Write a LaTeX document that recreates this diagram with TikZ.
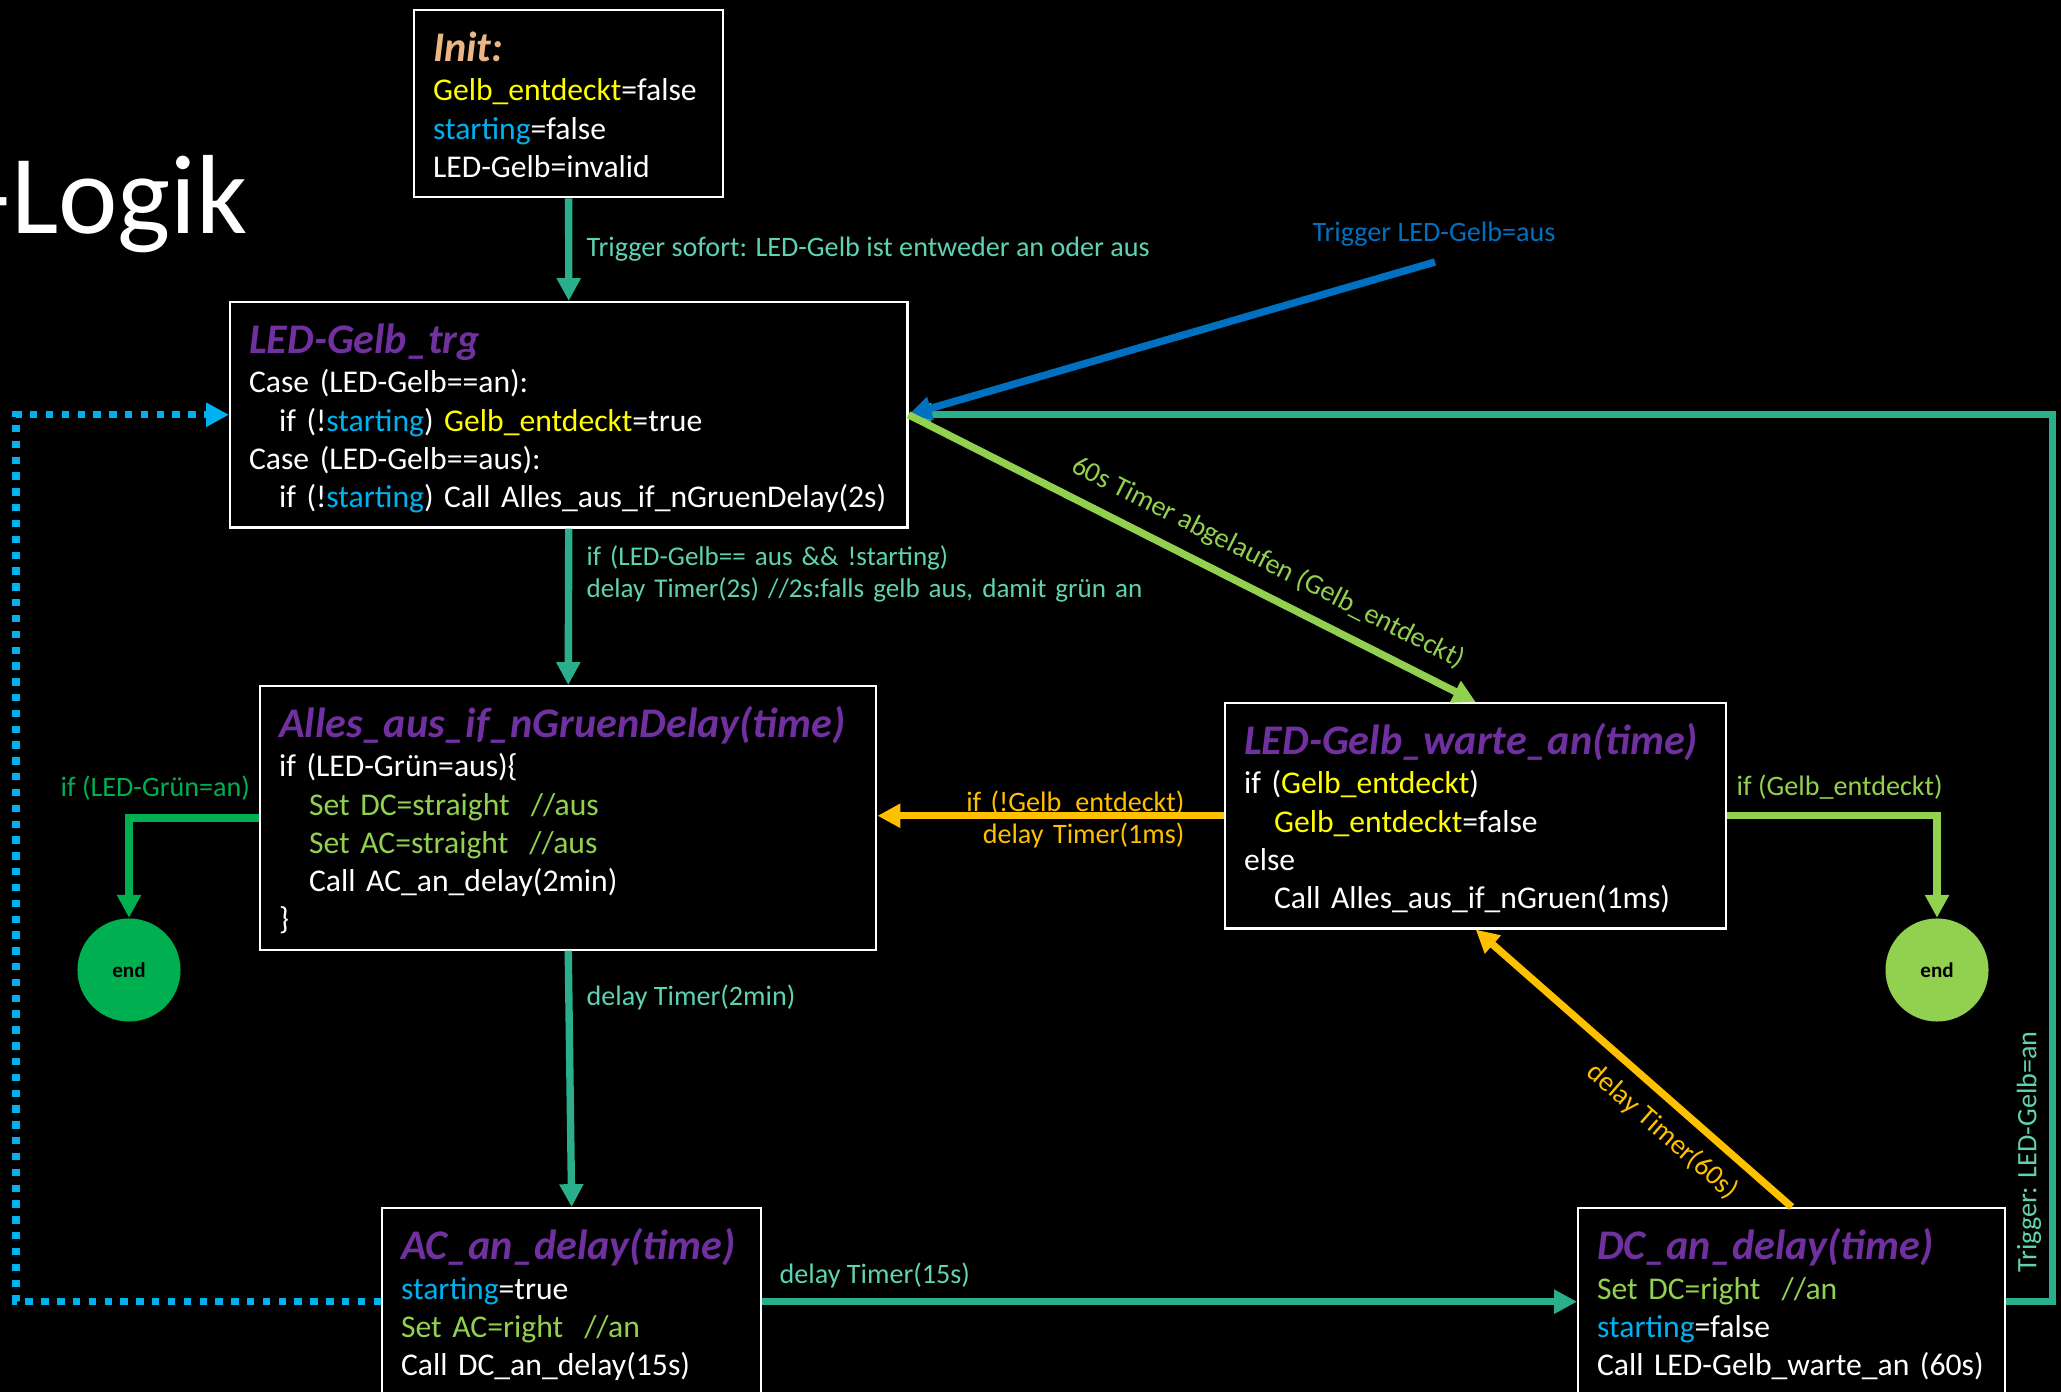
\documentclass[tikz,border=0pt]{standalone}
\usepackage{fontspec}
\setmainfont{Carlito}
\usetikzlibrary{arrows.meta}
\definecolor{flow}{HTML}{2BAE8C}
\definecolor{flowtext}{HTML}{5FD3B1}
\definecolor{trigblue}{HTML}{0070C0}
\definecolor{startblue}{HTML}{00B0F0}
\definecolor{leafgreen}{HTML}{92D050}
\definecolor{grassgreen}{HTML}{00B050}
\definecolor{amber}{HTML}{FFC000}
\definecolor{gelb}{HTML}{FFFF00}
\definecolor{fnpurple}{HTML}{7030A0}
\definecolor{inittan}{HTML}{EDB584}

\newcommand{\fnname}[2][fnpurple]{\rule{0pt}{5.1mm}{\fontsize{12}{14}\selectfont\bfseries\itshape\color{#1}#2}}
\newcommand{\ind}{\hspace*{3mm}}
\newcommand{\lst}{\rule[-2mm]{0pt}{2mm}}
\newcommand{\st}{\textcolor{startblue}{starting}}
\newcommand{\gelb}{\textcolor{gelb}{Gelb\_entdeckt}}

\begin{document}
\begin{tikzpicture}[
  x=0.01cm, y=-0.01cm,
  fnbox/.style={draw=white, line width=0.6pt, text=white, anchor=north west,
    align=left, inner xsep=0.19cm, inner ysep=0pt,
    font=\fontsize{9}{10.85}\selectfont},
  lbl/.style={inner sep=0pt, font=\fontsize{8}{9.1}\selectfont},
  conn/.style={line width=2.1pt, -{Triangle[length=6.5pt,width=6.5pt]}},
  dotline/.style={conn, startblue, dash pattern=on 2.1pt off 2.4pt},
  endc/.style={circle, minimum size=1.03cm, inner sep=0pt, text=black,
    font=\fontsize{6}{7}\selectfont\bfseries},
]
\useasboundingbox (0,0) rectangle (2061,1392);
\fill[black] (0,0) rectangle (2061,1392);

% ── heading, cut off by the left edge ─────────────────────────────────────
\node[anchor=base west, inner sep=0pt, text=white,
  font=\fontsize{32}{38}\selectfont] (heading) at (-24,234) {-Logik};

% ── the functions ─────────────────────────────────────────────────────────
\node[fnbox, text width=2.71cm] (init) at (413,9) {\fnname[inittan]{Init:}\\[0.5pt]
  \gelb=false\\
  \st=false\\
  LED-Gelb=invalid\lst};

\node[fnbox, text width=6.39cm] (trg) at (229,301) {\fnname{LED-Gelb\_trg}\\[0.5pt]
  Case (LED-Gelb==an):\\
  \ind if (!\st) \gelb=true\\
  Case (LED-Gelb==aus):\\
  \ind if (!\st) Call Alles\_aus\_if\_nGruenDelay(2s)\lst};

\node[fnbox, text width=5.78cm] (alles) at (259,685) {\fnname{Alles\_aus\_if\_nGruenDelay(time)}\\[0.5pt]
  if (LED-Grün=aus)\{\\
  \ind\textcolor{leafgreen}{Set DC=straight\ \ //aus}\\
  \ind\textcolor{leafgreen}{Set AC=straight\ \ //aus}\\
  \ind Call AC\_an\_delay(2min)\\
  \}\lst};

\node[fnbox, text width=4.63cm] (warte) at (1224,702) {\fnname{LED-Gelb\_warte\_an(time)}\\[0.5pt]
  if (\gelb)\\
  \ind\gelb=false\\
  else\\
  \ind Call Alles\_aus\_if\_nGruen(1ms)\lst};

\node[fnbox, text width=3.41cm] (ac) at (381,1207) {\fnname{AC\_an\_delay(time)}\\[0.5pt]
  \st=true\\
  \textcolor{leafgreen}{Set AC=right\ \ //an}\\
  Call DC\_an\_delay(15s)\lst};

\node[fnbox, text width=3.89cm] (dc) at (1577,1207) {\fnname{DC\_an\_delay(time)}\\[0.5pt]
  \textcolor{leafgreen}{Set DC=right\ \ //an}\\
  \st=false\\
  Call LED-Gelb\_warte\_an (60s)\lst};

\node[endc, fill=grassgreen] (endl) at (129,970) {end};
\node[endc, fill=leafgreen] (endr) at (1937,970) {end};

% ── the main chain ────────────────────────────────────────────────────────
\draw[conn, flow] (init.south) -- (trg.north);
\draw[conn, flow] (trg.south) -- (alles.north);
\draw[conn, flow] (alles.south) -- (ac.north);
\draw[conn, flow] (ac.east) -- (dc.west);
\draw[conn, flow] (dc.east) -- ++(46,0) |- (trg.east);
\draw[dotline] (ac.west) -- ++(-365,0) |- (trg.west);

\node[lbl, text=flowtext, anchor=base west] (l_init) at (586,257)
  {Trigger sofort: LED-Gelb ist entweder an oder aus};
\node[lbl, text=flowtext, anchor=base west, text width=6cm, align=left,
  font=\fontsize{7.7}{9.1}\selectfont] (l_trg) at (586,566)
  {if (LED-Gelb== aus \&\& !starting)\\delay Timer(2s) //2s:falls gelb aus, damit grün an};
\node[lbl, text=flowtext, anchor=base west] (l_alles) at (586,1005) {delay Timer(2min)};
\node[lbl, text=flowtext, anchor=base west] (l_ac) at (779,1283) {delay Timer(15s)};
\node[lbl, text=flowtext, rotate=90] (l_an) at (2029,1152) {Trigger: LED-Gelb=an};

% ── trigger from outside ──────────────────────────────────────────────────
\node[lbl, text=trigblue, anchor=base] (l_aus) at (1434,242) {Trigger LED-Gelb=aus};
\coordinate (ausfoot) at (1435,262);
\draw[conn, trigblue] (ausfoot) -- (trg.east);

% ── waiting for yellow ────────────────────────────────────────────────────
\draw[conn, leafgreen] (trg.east) -- (warte.north)
  node[lbl, sloped, above=4pt, pos=0.61, text=leafgreen] {60s Timer abgelaufen (Gelb\_entdeckt)};
\draw[conn, amber] (dc.north) -- (warte.south)
  node[lbl, sloped, below=3.5pt, pos=0.35, text=amber] {delay Timer(60s)};
\draw[conn, amber] (warte.west) -- (warte.west -| alles.east);
\node[lbl, text=amber, anchor=base east, text width=2.4cm, align=right] (l_ms) at (1185,811)
  {if (!Gelb\_entdeckt)\hspace*{0.09cm}\\delay Timer(1ms)};

% ── the two ends ──────────────────────────────────────────────────────────
\draw[conn, grassgreen] (alles.west) -| (endl.north);
\node[lbl, text=grassgreen, anchor=base west] (l_gruen) at (60,797) {if (LED-Grün=an)};
\draw[conn, leafgreen] (warte.east) -| (endr.north);
\node[lbl, text=leafgreen, anchor=base west] (l_gelb) at (1736,795) {if (Gelb\_entdeckt)};

\end{tikzpicture}
\end{document}
